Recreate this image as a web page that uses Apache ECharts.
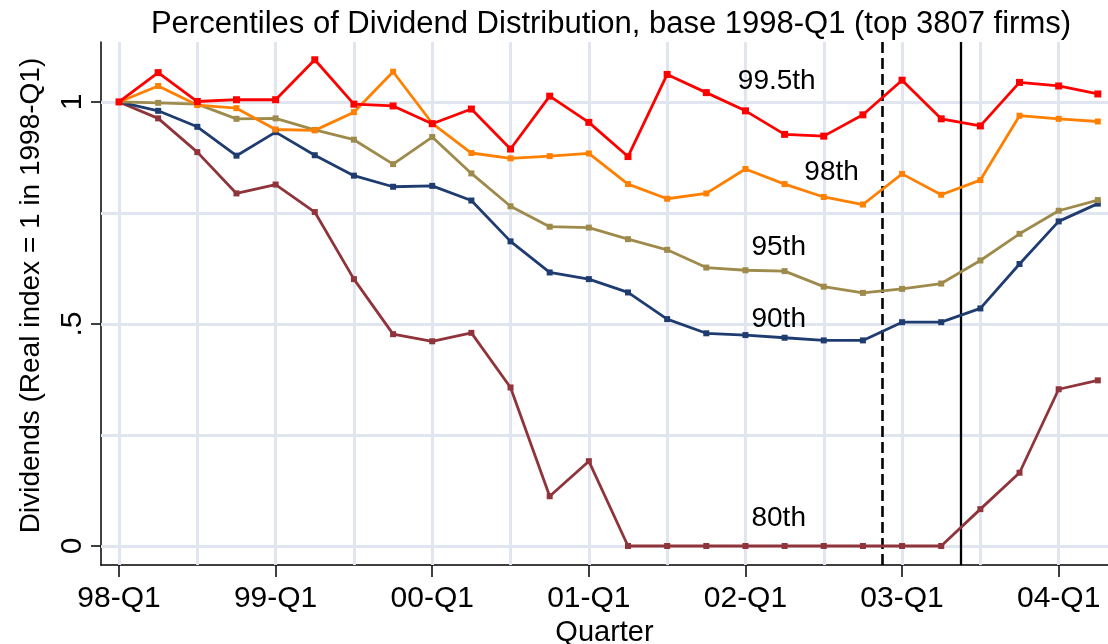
<!DOCTYPE html>
<html>
<head>
<meta charset="utf-8">
<script src="https://cdn.jsdelivr.net/npm/echarts@6/dist/echarts.min.js"></script>
<style>
    html, body { margin: 0; padding: 0; background: #fff; }
    #chart { width: 1108px; height: 644px; }
</style>
</head>
<body>
<div id="chart"></div>
<script>
// quarters 98-Q1 .. 04-Q2
const quarters = ['98-Q1', '98-Q2', '98-Q3', '98-Q4', '99-Q1', '99-Q2', '99-Q3', '99-Q4',
    '00-Q1', '00-Q2', '00-Q3', '00-Q4', '01-Q1', '01-Q2', '01-Q3', '01-Q4',
    '02-Q1', '02-Q2', '02-Q3', '02-Q4', '03-Q1', '03-Q2', '03-Q3', '03-Q4',
    '04-Q1', '04-Q2'];
const tickLabels = ['98-Q1', '99-Q1', '00-Q1', '01-Q1', '02-Q1', '03-Q1', '04-Q1'];
const yLabels = [0, 0.5, 1];

const p995 = [1.000, 1.066, 1.001, 1.005, 1.005, 1.095, 0.995, 0.991, 0.951, 0.984, 0.894, 1.013, 0.954,
    0.877, 1.062, 1.021, 0.980, 0.927, 0.923, 0.971, 1.049, 0.962, 0.946, 1.044, 1.036, 1.018];
const p98 = [1.000, 1.036, 0.993, 0.986, 0.938, 0.936, 0.977, 1.068, 0.952, 0.885, 0.873, 0.878, 0.884,
    0.815, 0.782, 0.794, 0.849, 0.815, 0.786, 0.769, 0.838, 0.791, 0.824, 0.969, 0.962, 0.956];
const p95 = [1.000, 0.998, 0.995, 0.962, 0.963, 0.937, 0.915, 0.860, 0.921, 0.839, 0.765, 0.719, 0.717,
    0.691, 0.667, 0.627, 0.621, 0.619, 0.584, 0.570, 0.579, 0.591, 0.643, 0.703, 0.755, 0.779];
const p90 = [1.000, 0.980, 0.944, 0.879, 0.932, 0.880, 0.834, 0.809, 0.811, 0.778, 0.686, 0.616, 0.601,
    0.571, 0.511, 0.479, 0.475, 0.469, 0.463, 0.463, 0.504, 0.504, 0.535, 0.635, 0.731, 0.771];
const p80 = [1.000, 0.963, 0.887, 0.794, 0.814, 0.752, 0.601, 0.477, 0.461, 0.480, 0.357, 0.112, 0.191,
    0, 0, 0, 0, 0, 0, 0, 0, 0, 0.083, 0.165, 0.353, 0.373];

// vertical reference lines (quarter index)
const dashedAt = 19.5;
const solidAt = 21.5;

// curve annotations: [x index, y value, text]
const annotations = [
    [16.8, 1.047, '99.5th'],
    [18.2, 0.842, '98th'],
    [16.85, 0.673, '95th'],
    [16.85, 0.511, '90th'],
    [16.85, 0.063, '80th']
];

const FONT = '"Liberation Sans", Arial, Helvetica, sans-serif';
const majorX = tickLabels.map(t => quarters.indexOf(t));
const minorX = majorX.slice(0, -1).map(i => i + 2);
const gridX = quarters.map((q, i) => i).filter(i => i % 2 === 0 && i <= 24);
const gridY = [0, 0.25, 0.5, 0.75, 1];

const chart = echarts.init(document.getElementById('chart'));

function lineSeries(name, values, color, size) {
    return {
        name: name,
        type: 'line',
        z: 5,
        data: values.map((v, i) => [i, v]),
        symbol: 'rect',
        symbolSize: size,
        itemStyle: { color: color },
        lineStyle: { color: color, width: 2.8 },
        silent: true
    };
}

const xBase = {
    type: 'value',
    min: -0.46,
    max: 25.26,
    position: 'bottom',
    splitLine: { show: false }
};
const yBase = {
    type: 'value',
    min: -0.0428,
    max: 1.135,
    position: 'left',
    splitLine: { show: false }
};

const option = {
    animation: false,
    backgroundColor: '#fff',
    title: {
        text: 'Percentiles of Dividend Distribution, base 1998-Q1 (top 3807 firms)',
        left: 606,
        textAlign: 'center',
        top: 4,
        textStyle: { fontFamily: FONT, fontSize: 31, fontWeight: 'normal', color: '#000' }
    },
    grid: { left: 101, right: 0, top: 42, bottom: 79, outerBoundsMode: 'none', containLabel: false },
    xAxis: [
        Object.assign({}, xBase, {
            name: 'Quarter',
            nameLocation: 'middle',
            nameGap: 44,
            nameTextStyle: { fontFamily: FONT, fontSize: 29, color: '#000' },
            axisLine: { show: true, onZero: false, lineStyle: { color: '#000', width: 1.5 } },
            axisTick: { show: true, customValues: majorX, length: 12, lineStyle: { color: '#000', width: 1.5 } },
            axisLabel: {
                customValues: majorX,
                formatter: v => quarters[Math.round(v)],
                fontFamily: FONT, fontSize: 30, color: '#000', margin: 19
            }
        }),
        Object.assign({}, xBase, {
            axisLine: { show: false },
            axisTick: { show: true, customValues: minorX, length: 6, lineStyle: { color: '#000', width: 1.2 } },
            axisLabel: { show: false }
        })
    ],
    yAxis: [
        Object.assign({}, yBase, {
            name: 'Dividends (Real index = 1 in 1998-Q1)',
            nameLocation: 'middle',
            nameGap: 56,
            nameTextStyle: { fontFamily: FONT, fontSize: 28, color: '#000', padding: [0, 0, 0, 16] },
            axisLine: { show: true, onZero: false, lineStyle: { color: '#000', width: 1.5 } },
            axisTick: { show: true, customValues: yLabels, length: 10, lineStyle: { color: '#000', width: 1.5 } },
            axisLabel: {
                customValues: yLabels,
                rotate: 90,
                formatter: v => (v === 0.5 ? '.5' : String(v)),
                fontFamily: FONT, fontSize: 30, color: '#000', margin: 13
            }
        }),
        Object.assign({}, yBase, {
            axisLine: { show: false },
            axisTick: { show: true, customValues: [0.25, 0.75], length: 5, lineStyle: { color: '#000', width: 1.2 } },
            axisLabel: { show: false }
        })
    ],
    series: [
        {
            // background grid lines
            type: 'line',
            z: 1,
            data: [],
            silent: true,
            markLine: {
                silent: true,
                symbol: 'none',
                label: { show: false },
                lineStyle: { color: '#e1e5ef', width: 3, type: 'solid' },
                data: gridX.map(x => ({ xAxis: x })).concat(gridY.map(y => ({ yAxis: y })))
            }
        },
        {
            // event lines
            type: 'line',
            z: 6,
            data: [],
            silent: true,
            markLine: {
                silent: true,
                symbol: 'none',
                label: { show: false },
                data: [
                    { xAxis: dashedAt, lineStyle: { color: '#000', width: 2.6, type: [11, 5] } },
                    { xAxis: solidAt, lineStyle: { color: '#000', width: 2.3, type: 'solid' } }
                ]
            }
        },
        lineSeries('80th', p80, '#8f343b', 6),
        lineSeries('90th', p90, '#1f3c70', 6),
        lineSeries('95th', p95, '#9e8b4c', 6),
        lineSeries('98th', p98, '#ff8000', 6),
        lineSeries('99.5th', p995, '#ff0000', 7),
        {
            type: 'scatter',
            z: 7,
            symbolSize: 0,
            silent: true,
            data: annotations,
            itemStyle: { opacity: 1 },
            label: {
                show: true,
                position: 'inside',
                formatter: p => p.value[2],
                fontFamily: FONT, fontSize: 28, color: '#000',
                textBorderWidth: 0, opacity: 1
            }
        }
    ]
};

chart.setOption(option);
</script>
</body>
</html>
